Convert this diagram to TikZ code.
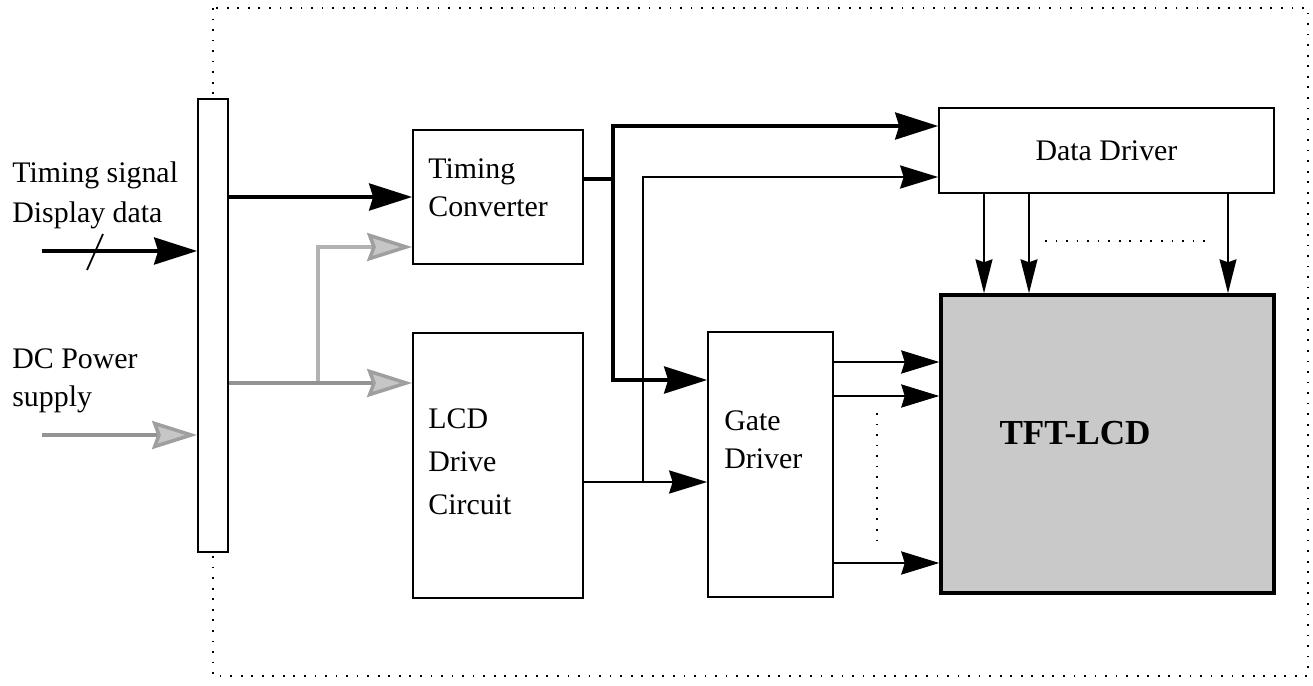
\documentclass[tikz,border=0pt]{standalone}
\usepackage{fontspec}
\setmainfont{Liberation Serif}
\usetikzlibrary{arrows.meta, positioning}

\begin{document}
\begin{tikzpicture}[x=0.02cm, y=-0.02cm, font=\fontsize{17}{21.5}\selectfont]
    \tikzstyle{box} = [rectangle, draw, line width=1pt, fill=white, inner sep=0pt]
    \tikzstyle{lbl} = [inner sep=0pt, align=left]
    \tikzstyle{bigline} = [draw, line width=2.1pt, -{Stealth[length=0.86cm, width=0.54cm, inset=0.08cm]}]
    \tikzstyle{midline} = [draw, line width=1.5pt, -{Stealth[length=0.76cm, width=0.46cm, inset=0.07cm]}]
    \tikzstyle{thinline} = [draw, line width=0.8pt, -{Stealth[length=0.68cm, width=0.34cm, inset=0.06cm]}]
    \tikzstyle{pwrline} = [draw=gray!85, line width=2pt, -{Stealth[length=0.9cm, width=0.56cm, inset=0.1cm, fill=gray!45, color=gray!75]}]
    \tikzstyle{sparse} = [line width=1pt, dash pattern=on 1pt off 5pt]

    \useasboundingbox (0,0) rectangle (1313,686);
    \draw[sparse] (213,8) rectangle (1308,676);

    % blocks
    \node [box, minimum width=0.6cm, minimum height=9.06cm] (bus) at (213,325.5) {};
    \node [box, minimum width=3.4cm, minimum height=2.68cm] (tc) at (498,197) {};
    \node [box, minimum width=3.4cm, minimum height=5.3cm] (lcd) at (498,465.5) {};
    \node [box, minimum width=2.5cm, minimum height=5.3cm] (gd) at (770.5,464.5) {};
    \node [box, minimum width=6.7cm, minimum height=1.7cm] (dd) at (1106.5,150.5) {Data Driver};
    \node [box, line width=2pt, fill=gray!42, minimum width=6.66cm, minimum height=5.96cm] (tft) at (1107.5,444) {};
    \node [font=\fontsize{20}{24}\selectfont\bfseries] (tftname) at (1075,433) {TFT-LCD};

    % texts
    \node [lbl, anchor=west, font=\fontsize{17}{22.8}\selectfont] (sigtext) at (12,195) {Timing signal\\Display data};
    \node [lbl, anchor=west] (pwrtext) at (12,381) {DC Power\\supply};
    \node [lbl, anchor=west] (tctext) at (428,187.5) {Timing\\Converter};
    \node [lbl, anchor=west, font=\fontsize{17}{24.5}\selectfont] (lcdtext) at (428,462) {LCD\\Drive\\Circuit};
    \node [lbl, anchor=west] (gdtext) at (724,440) {Gate\\Driver};

    % inputs
    \coordinate (sigin) at (42,251);
    \coordinate (pwrin) at (42,435);
    \path [bigline] (sigin) -- (sigin -| bus.west);
    \draw [line width=1pt] (87,270) -- (103,234);
    \path [pwrline] (pwrin) -- (pwrin -| bus.west);
    \path [bigline] (bus.east |- tc.west) -- (tc.west);

    % power feed
    \coordinate (pj) at (318,383);
    \coordinate (pk) at (318,247);
    \path [pwrline, draw=gray!60] (pj) -- (pk) -- (pk -| tc.west);
    \path [pwrline] (pj -| bus.east) -- (pj -| lcd.west);

    % timing converter outputs
    \coordinate (a1) at (613,179);
    \coordinate (a2) at (613,126);
    \coordinate (a3) at (613,380);
    \path [bigline] (a1 -| tc.east) -- (a1) -- (a2) -- (a2 -| dd.west);
    \path [bigline] (a1) -- (a3) -- (a3 -| gd.west);

    % drive circuit outputs
    \coordinate (b1) at (643,482);
    \coordinate (b2) at (643,177);
    \path [midline] (b1 -| lcd.east) -- (b1 -| gd.west);
    \path [midline] (b1) -- (b2) -- (b2 -| dd.west);

    % drivers to panel
    \foreach \y in {362,396,563}
        \path [midline] (gd.east |- 0,\y) -- (tft.west |- 0,\y);
    \foreach \x in {984,1029,1228}
        \path [thinline] (dd.south -| \x,0) -- (tft.north -| \x,0);
    \draw [sparse] (877,413) -- (877,543);
    \draw [sparse] (1045,241) -- (1213,241);
\end{tikzpicture}
\end{document}
